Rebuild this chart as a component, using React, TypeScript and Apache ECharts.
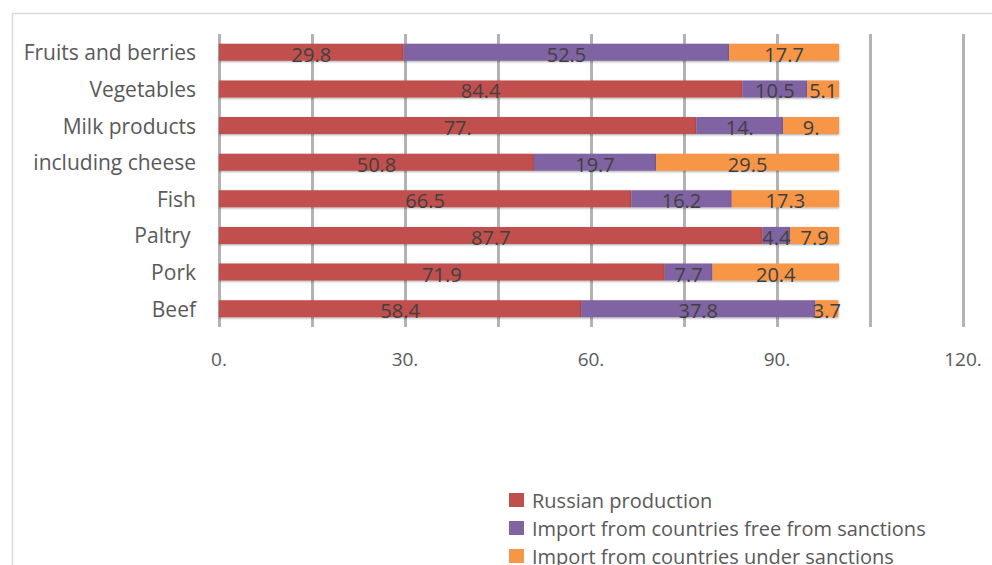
import React, { useEffect, useRef } from "react";
import * as echarts from "echarts";

const categories = [
  "Fruits and berries",
  "Vegetables",
  "Milk products",
  "including cheese",
  "Fish",
  "Paltry ",
  "Pork",
  "Beef",
];
const russianProduction = [29.8, 84.4, 77, 50.8, 66.5, 87.7, 71.9, 58.4];
const importFree = [52.5, 10.5, 14, 19.7, 16.2, 4.4, 7.7, 37.8];
const importSanctioned = [17.7, 5.1, 9, 29.5, 17.3, 7.9, 20.4, 3.7];
const seriesNames = [
  "Russian production",
  "Import from countries free from sanctions",
  "Import from countries under sanctions",
];
const colors = ["#C0504D", "#8064A2", "#F79646"];
const axisTicks = [0, 30, 60, 90, 120];

const fmt = (v: number) => (Number.isInteger(v) ? v + "." : v.toFixed(1));
const FONT = "'Open Sans', sans-serif";

export default function App() {
  const ref = useRef<HTMLDivElement>(null);
  useEffect(() => {
    if (!ref.current) return;
    const chart = echarts.init(ref.current, undefined, { renderer: "svg" });
    const data = [russianProduction, importFree, importSanctioned];
    chart.setOption({
      animation: false,
      textStyle: { fontFamily: FONT },
      graphic: [
        {
          type: "rect",
          shape: { x: 12.5, y: 13.5, width: 1000, height: 600 },
          style: { fill: "none", stroke: "#d9d9d9", lineWidth: 1.5 },
          silent: true,
          z: -1,
        },
      ],
      grid: { left: 219, right: 29, top: 34, bottom: 238, containLabel: false },
      xAxis: {
        type: "value",
        min: 0,
        max: 120,
        interval: 15,
        axisLine: { show: false },
        axisTick: { show: false },
        splitLine: { show: true, lineStyle: { color: "#b3b3b3", width: 3 } },
        axisLabel: {
          margin: 22,
          fontSize: 19,
          color: "#595959",
          fontFamily: FONT,
          formatter: (v: number) => (axisTicks.includes(v) ? fmt(v) : ""),
        },
      },
      yAxis: {
        type: "category",
        data: categories,
        inverse: true,
        axisLine: { show: false },
        axisTick: { show: false },
        axisLabel: { margin: 23, fontSize: 21, color: "#595959", fontFamily: FONT },
      },
      legend: {
        orient: "vertical",
        left: 509,
        top: 490,
        height: 200,
        padding: 0,
        itemWidth: 15,
        itemHeight: 14,
        itemGap: 8,
        icon: "rect",
        data: seriesNames,
        textStyle: { fontSize: 20, color: "#595959", fontFamily: FONT, padding: [0, 0, 0, 3], lineHeight: 20 },
      },
      series: seriesNames.map((name, i) => ({
        name,
        type: "bar",
        stack: "total",
        barWidth: 17,
        data: data[i],
        itemStyle: {
          color: colors[i],
          shadowColor: "rgba(0,0,0,0.35)",
          shadowBlur: 2,
          shadowOffsetY: 1,
        },
        label: {
          show: true,
          position: "inside",
          fontSize: 20,
          color: "#404040",
          fontFamily: FONT,
          offset: [0, 2],
          formatter: (p: any) => fmt(p.value),
        },
      })),
    });
    return () => chart.dispose();
  }, []);
  return (
    <div
      ref={ref}
      style={{ position: "fixed", left: 0, top: 0, width: 992, height: 565, background: "#fff" }}
    />
  );
}
